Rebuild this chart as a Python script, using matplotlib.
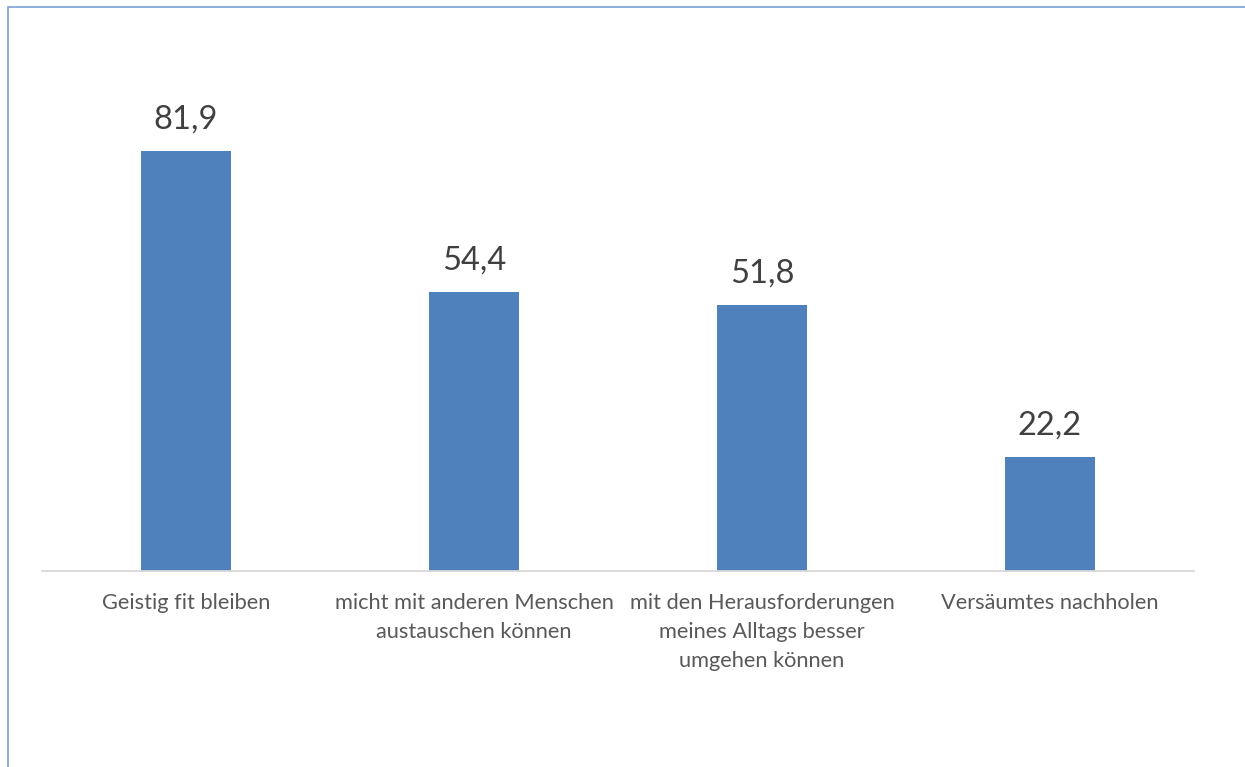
import matplotlib.pyplot as plt
from matplotlib.patches import Rectangle

categories = ["Geistig fit bleiben",
              "micht mit anderen Menschen\naustauschen können",
              "mit den Herausforderungen\nmeines Alltags besser\numgehen können",
              "Versäumtes nachholen"]
values = [81.9, 54.4, 51.8, 22.2]
labels = ["81,9", "54,4", "51,8", "22,2"]

plt.rcParams['font.family'] = ['Lato', 'DejaVu Sans']

W, H = 1245, 767
fig = plt.figure(figsize=(W / 100, H / 100), dpi=100)

# outer frame (only left and top visible, rest is cut off)
fig.patches.append(Rectangle((7.5 / W, -0.1), 1.2, 1.1 - 6.5 / H,
                             transform=fig.transFigure, fill=False,
                             edgecolor='#7A9FD4', linewidth=1.2))

ymax = 90
ax = fig.add_axes([42 / W, (H - 571) / H, 1152 / W, ymax * 5.128 / H])
x = range(len(values))
ax.bar(x, values, width=0.3125, color='#4F81BD')
ax.set_xlim(-0.5, len(values) - 0.5)
ax.set_ylim(0, ymax)

for xi, v, t in zip(x, values, labels):
    ax.annotate(t, (xi, v), xytext=(0, 12), textcoords='offset points',
                ha='center', va='bottom', fontsize=23.5, color='#404040')

ax.set_xticks(list(x))
ax.set_xticklabels(categories, fontsize=15.7, color='#595959', linespacing=1.57, va='top')
ax.tick_params(axis='x', length=0, pad=16)
ax.set_yticks([])
for s in ['top', 'right', 'left']:
    ax.spines[s].set_visible(False)
ax.spines['bottom'].set_color('#D9D9D9')
ax.spines['bottom'].set_linewidth(1.3)

fig.savefig('out.png', dpi=100)
